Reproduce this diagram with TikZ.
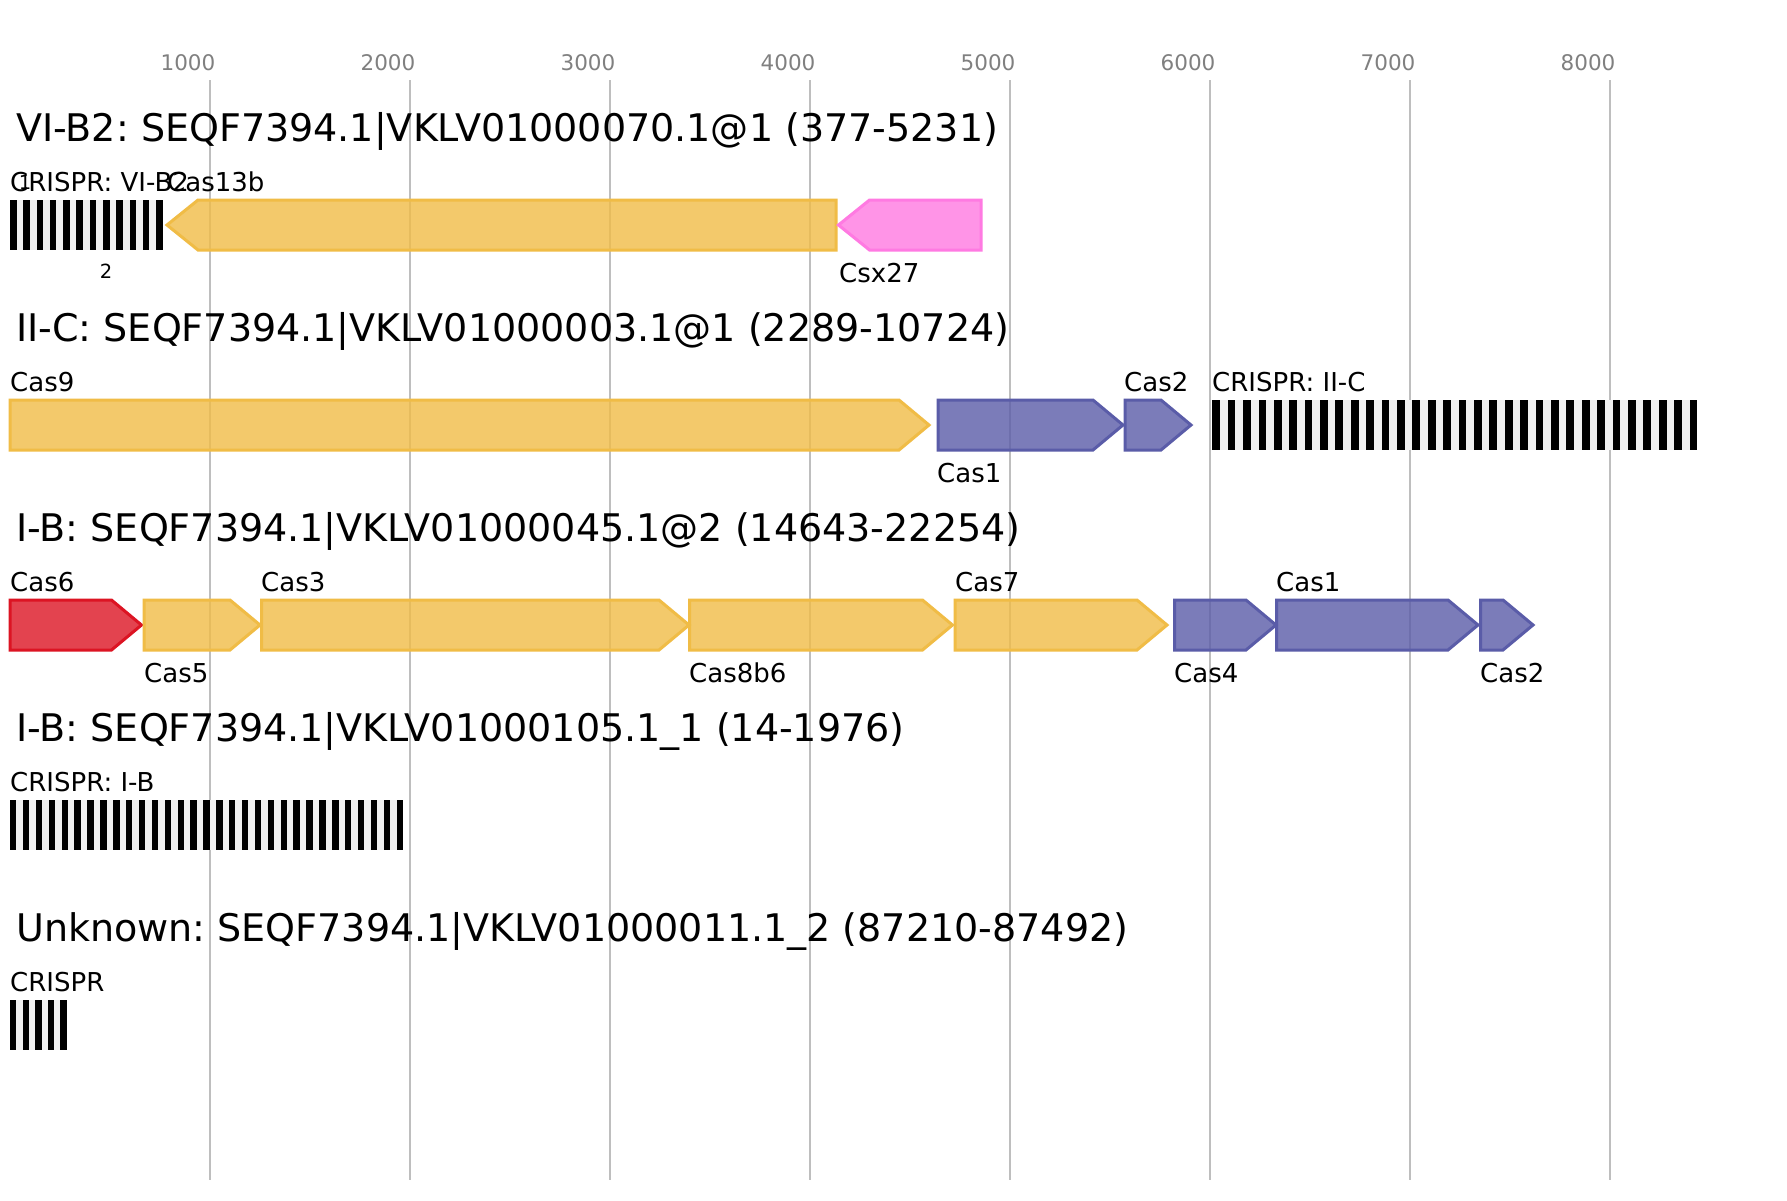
\documentclass[tikz,border=0pt]{standalone}
\usepackage{fontspec}
\setmainfont{DejaVu Sans}
\frenchspacing
\definecolor{gy}{RGB}{240,188,70}
\definecolor{gp}{RGB}{90,92,168}
\definecolor{gr}{RGB}{220,20,35}
\definecolor{gk}{RGB}{255,122,226}
\definecolor{gridc}{RGB}{190,190,190}
\definecolor{tickc}{RGB}{128,128,128}
\definecolor{crgap}{RGB}{240,240,240}
\tikzset{
  gene/.style={line width=3pt, line join=miter, fill opacity=0.8},
  yel/.style={gene, draw=gy, fill=gy},
  pur/.style={gene, draw=gp, fill=gp},
  redg/.style={gene, draw=gr, fill=gr},
  pnk/.style={gene, draw=gk, fill=gk},
  ttl/.style={anchor=base west, inner sep=0pt, font=\fontsize{38.05}{40}\selectfont},
  lab/.style={anchor=base west, inner sep=0pt, font=\fontsize{26}{30}\selectfont},
  ticklab/.style={anchor=base, inner sep=0pt, text=tickc, font=\fontsize{21.5}{24}\selectfont},
  idx/.style={anchor=base, inner sep=0pt, font=\fontsize{19.5}{22}\selectfont},
  gridline/.style={draw=gridc, line width=2pt},
}
% forward gene: style, left, tip, top
\newcommand\fwdgene[4]{%
  \draw[#1] ({#2},{#4}) -- ({#3-30},{#4}) -- ({#3},{#4+25}) -- ({#3-30},{#4+50}) -- ({#2},{#4+50}) -- cycle;}
% reverse gene: style, tip, right, top
\newcommand\revgene[4]{%
  \draw[#1] ({#2},{#4+25}) -- ({#2+31},{#4}) -- ({#3},{#4}) -- ({#3},{#4+50}) -- ({#2+31},{#4+50}) -- cycle;}
% crispr array: left, right, top, n
\newcommand\crisprarr[4]{%
  \fill[crgap] ({#1},{#3}) rectangle ({#2},{#3+50});
  \pgfmathsetmacro\cw{(#2-#1)/(2*#4-1)}
  \foreach \k in {1,...,#4}{\fill[black] ({#1+(\k-1)*2*\cw},{#3}) rectangle ++(\cw,50);}
}
\begin{document}
\begin{tikzpicture}[x=1pt,y={(0pt,-1pt)}]
\fill[white] (0,0) rectangle (1787,1200);
\useasboundingbox (0,0) rectangle (1787,1200);
% grid
\foreach \v [count=\i] in {1000,2000,3000,4000,5000,6000,7000,8000}{
  \draw[gridline] ({10+200*\i},80) -- ({10+200*\i},1180);
  \node[ticklab] (t\i) at ({10+200*\i-22},70) {\v};
}
% row 1
\node[ttl] (title1) at (16,141) {VI-B2: SEQF7394.1|VKLV01000070.1@1 (377-5231)};
\crisprarr{10}{162.7}{200}{12}
\revgene{yel}{167}{836}{200}
\revgene{pnk}{838.5}{981}{200}
\node[lab] (l1a) at (10,191) {CRISPR: VI-B2};
\node[lab] (l1b) at (167,191) {Cas13b};
\node[lab] (l1c) at (839,282) {Csx27};
\node[idx] (n1) at (25,189) {1};
\node[idx] (n2) at (106,278) {2};
% row 2
\node[ttl] (title2) at (16,341) {II-C: SEQF7394.1|VKLV01000003.1@1 (2289-10724)};
\fwdgene{yel}{10}{929}{400}
\fwdgene{pur}{938}{1123}{400}
\fwdgene{pur}{1125}{1191}{400}
\crisprarr{1212.3}{1697.3}{400}{32}
\node[lab] (l2a) at (10,391) {Cas9};
\node[lab] (l2b) at (937,482) {Cas1};
\node[lab] (l2c) at (1124,391) {Cas2};
\node[lab] (l2d) at (1212,391) {CRISPR: II-C};
% row 3
\node[ttl] (title3) at (16,541) {I-B: SEQF7394.1|VKLV01000045.1@2 (14643-22254)};
\fwdgene{redg}{10}{141.5}{600}
\fwdgene{yel}{144}{260}{600}
\fwdgene{yel}{261.5}{689}{600}
\fwdgene{yel}{689.5}{952.5}{600}
\fwdgene{yel}{955}{1167}{600}
\fwdgene{pur}{1174.5}{1276}{600}
\fwdgene{pur}{1276.5}{1478}{600}
\fwdgene{pur}{1480.5}{1533}{600}
\node[lab] (l3a) at (10,591) {Cas6};
\node[lab] (l3b) at (144,682) {Cas5};
\node[lab] (l3c) at (261,591) {Cas3};
\node[lab] (l3d) at (689,682) {Cas8b6};
\node[lab] (l3e) at (955,591) {Cas7};
\node[lab] (l3f) at (1174,682) {Cas4};
\node[lab] (l3g) at (1276,591) {Cas1};
\node[lab] (l3h) at (1480,682) {Cas2};
% row 4
\node[ttl] (title4) at (16,741) {I-B: SEQF7394.1|VKLV01000105.1\_1 (14-1976)};
\crisprarr{10}{403}{800}{31}
\node[lab] (l4a) at (10,791) {CRISPR: I-B};
% row 5
\node[ttl] (title5) at (16,941) {Unknown: SEQF7394.1|VKLV01000011.1\_2 (87210-87492)};
\crisprarr{10}{66.7}{1000}{5}
\node[lab] (l5a) at (10,991) {CRISPR};
\end{tikzpicture}
\end{document}
